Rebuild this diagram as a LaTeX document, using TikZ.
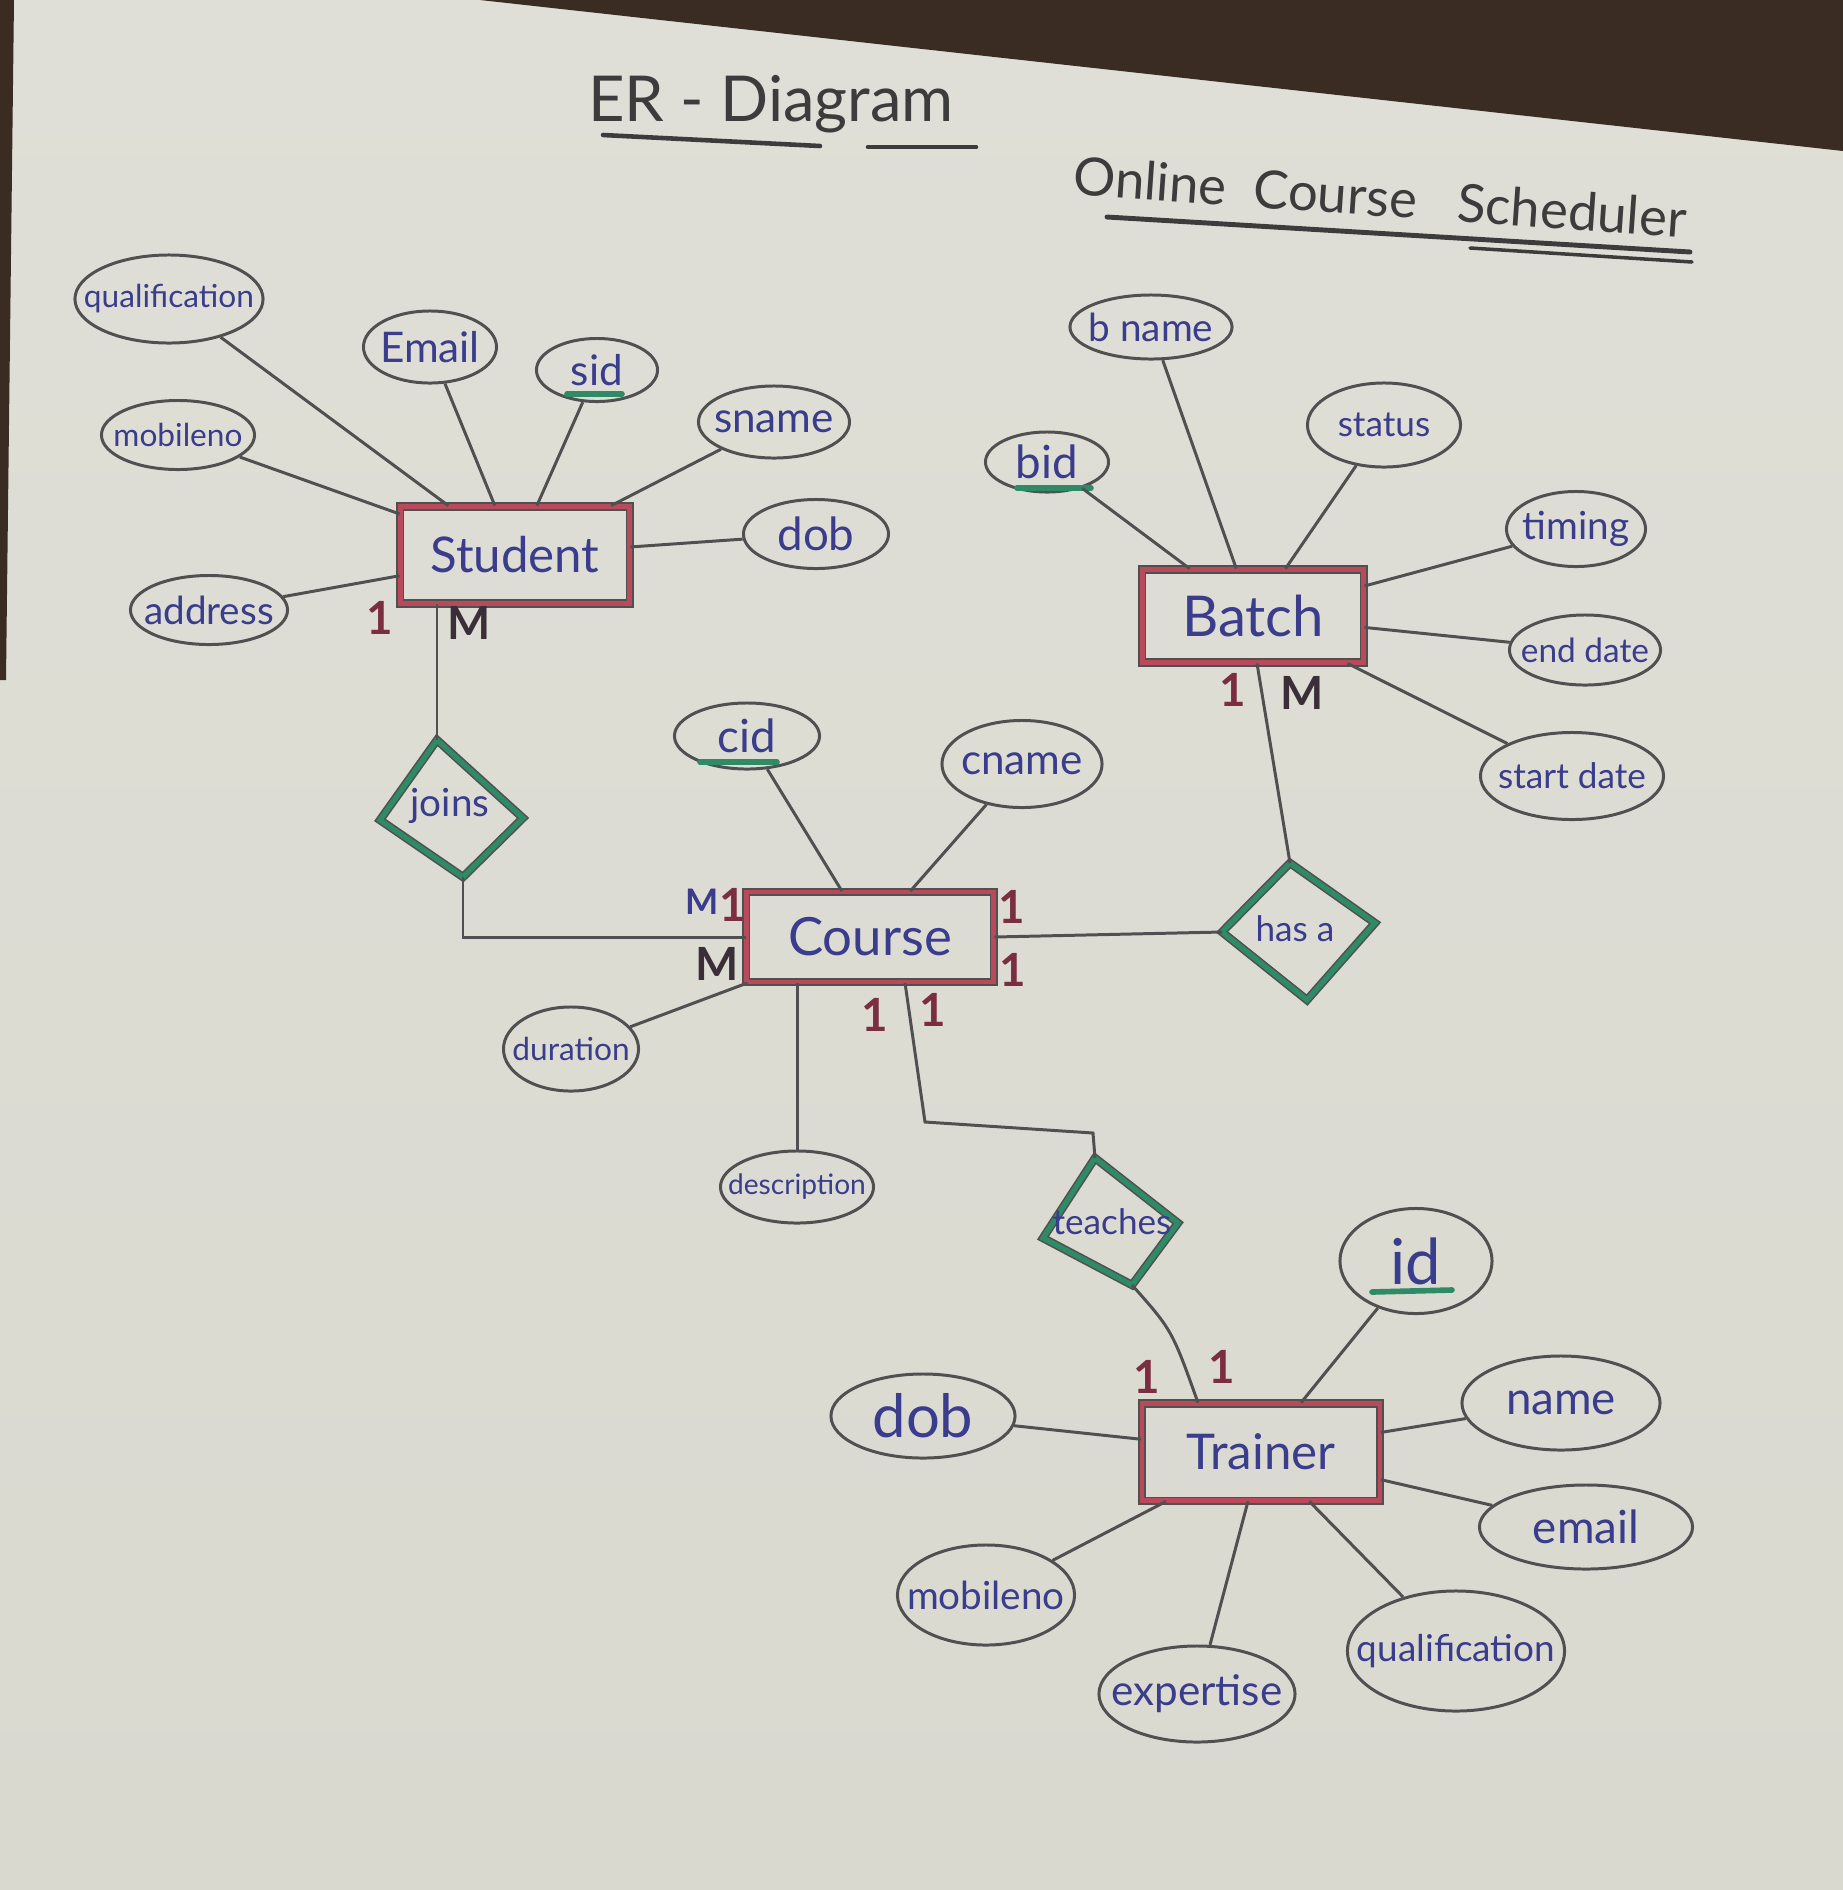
\documentclass[tikz,border=0pt]{standalone}
\usepackage{fontspec}
\setmainfont{Lato}
\usetikzlibrary{shapes.geometric,calc}
\definecolor{paper}{HTML}{DAD9D0}
\definecolor{paperlt}{HTML}{E0DFD7}
\definecolor{wood}{HTML}{3A2B23}
\definecolor{pencil}{HTML}{505050}
\definecolor{ink}{HTML}{3A3C8C}
\definecolor{redm}{HTML}{B84A5C}
\definecolor{greenm}{HTML}{2F8A66}
\definecolor{maroon}{HTML}{7A2E40}
\definecolor{darkm}{HTML}{3A2E38}
\definecolor{titleg}{HTML}{3C3C3C}
\newcommand{\ztext}[1]{\makebox[0pt]{#1}}
\begin{document}
\begin{tikzpicture}[x=0.01cm,y=-0.01cm,
  attr/.style={ellipse,draw=pencil,line width=0.85pt,inner sep=0pt,text=ink,font=\fontsize{11}{13}\selectfont},
  ent/.style={rectangle,draw=pencil,double=redm,double distance=1.3pt,line width=0.5pt,inner sep=0pt,text=ink,font=\fontsize{15}{18}\selectfont},
  rel/.style={draw=pencil,double=greenm,double distance=1.5pt,line width=0.45pt},
  rtext/.style={text=ink,font=\fontsize{11}{13}\selectfont},
  conn/.style={draw=pencil,line width=0.85pt},
  one/.style={text=maroon,font=\fontsize{13}{15}\selectfont\bfseries},
  many/.style={text=darkm,font=\fontsize{13}{15}\selectfont\bfseries},
  keyul/.style={draw=greenm,line width=1.6pt,line cap=round},
  titl/.style={text=titleg}
]
% paper and background
\shade[top color=paperlt,bottom color=paper] (0,0) rectangle (1843,1890);
\useasboundingbox (0,0) rectangle (1843,1890);
\fill[wood] (480,0) -- (1843,0) -- (1843,151) -- cycle;
\fill[wood] (0,0) -- (14,0) -- (6,680) -- (0,680) -- cycle;

% titles
\node[titl,font=\fontsize{18}{20}\selectfont] (t1) at (771,104) {ER - Diagram};
\draw[draw=titleg,line width=1.3pt,line cap=round] (603,135) -- (820,146);
\draw[draw=titleg,line width=1.3pt,line cap=round] (868,147) -- (976,147);
\node[titl,font=\fontsize{15}{18}\selectfont,rotate=-4] (t2) at (1380,197) {Online\ \ Course\ \ \ Scheduler};
\draw[draw=titleg,line width=1.4pt,line cap=round] (1107,217) -- (1690,252);
\draw[draw=titleg,line width=1.0pt,line cap=round] (1470,248) -- (1692,262);

% entities
\node[ent,minimum width=2.29cm,minimum height=0.97cm,font=\fontsize{14}{17}\selectfont] (st) at (515,555) {Student};
\node[ent,minimum width=2.47cm,minimum height=0.90cm] (co) at (870,937) {Course};
\node[ent,minimum width=2.21cm,minimum height=0.93cm,font=\fontsize{16}{18}\selectfont] (ba) at (1253,616) {Batch};
\node[ent,minimum width=2.38cm,minimum height=0.97cm,font=\fontsize{14}{17}\selectfont] (tr) at (1261,1452) {Trainer};

% relationships (diamonds)
\coordinate (J1) at (437,740); \coordinate (J2) at (523,818);
\coordinate (J3) at (463,877); \coordinate (J4) at (380,820);
\draw[rel] (J1) -- (J2) -- (J3) -- (J4) -- cycle;
\node[rtext] (jt) at (450,806) {joins};

\coordinate (H1) at (1290,863); \coordinate (H2) at (1375,923);
\coordinate (H3) at (1307,1000); \coordinate (H4) at (1222,932);
\draw[rel] (H1) -- (H2) -- (H3) -- (H4) -- cycle;
\node[rtext,font=\fontsize{10}{12}\selectfont] (ht) at (1295,929) {has a};

\coordinate (T1) at (1095,1158); \coordinate (T2) at (1178,1223);
\coordinate (T3) at (1132,1285); \coordinate (T4) at (1043,1238);
\draw[rel] (T1) -- (T2) -- (T3) -- (T4) -- cycle;
\node[rtext,font=\fontsize{10}{12}\selectfont] (tt) at (1112,1222) {teaches};

% Student attributes
\node[attr,minimum width=1.88cm,minimum height=0.88cm,font=\fontsize{9}{11}\selectfont] (sq) at (169,299) {\ztext{qualification}};
\node[attr,minimum width=1.33cm,minimum height=0.72cm,font=\fontsize{12}{14}\selectfont] (se) at (430,347) {\ztext{Email}};
\node[attr,minimum width=1.21cm,minimum height=0.63cm,font=\fontsize{12}{14}\selectfont] (ssid) at (597,370) {\ztext{sid}};
\node[attr,minimum width=1.51cm,minimum height=0.72cm,font=\fontsize{12}{14}\selectfont] (ssn) at (774,422) {\ztext{sname}};
\node[attr,minimum width=1.45cm,minimum height=0.69cm,font=\fontsize{13}{15}\selectfont] (sdob) at (816,534) {\ztext{dob}};
\node[attr,minimum width=1.53cm,minimum height=0.69cm,font=\fontsize{9}{11}\selectfont] (smob) at (178,435) {\ztext{mobileno}};
\node[attr,minimum width=1.57cm,minimum height=0.69cm] (sadd) at (209,610) {\ztext{address}};
\draw[keyul] (567,394) -- (622,394);
\foreach \a in {sq,se,ssid,ssn,sdob,smob,sadd} \draw[conn] (\a) -- (st);

% Course attributes
\node[attr,minimum width=1.45cm,minimum height=0.66cm,font=\fontsize{13}{15}\selectfont] (ccid) at (747,736) {\ztext{cid}};
\node[attr,minimum width=1.60cm,minimum height=0.87cm,font=\fontsize{12}{14}\selectfont] (ccn) at (1022,764) {\ztext{cname}};
\node[attr,minimum width=1.35cm,minimum height=0.84cm,font=\fontsize{9}{11}\selectfont] (cdur) at (571,1049) {\ztext{duration}};
\node[attr,minimum width=1.53cm,minimum height=0.72cm,font=\fontsize{8}{10}\selectfont] (cdes) at (797,1187) {\ztext{description}};
\draw[keyul] (700,762) -- (777,762);
\foreach \a in {ccid,ccn,cdur} \draw[conn] (\a) -- (co);
\draw[conn] (cdes.north) -- (cdes.north |- co.south);

% Batch attributes
\node[attr,minimum width=1.62cm,minimum height=0.64cm,font=\fontsize{11}{13}\selectfont] (bbn) at (1151,327) {\ztext{b name}};
\node[attr,minimum width=1.23cm,minimum height=0.60cm,font=\fontsize{13}{15}\selectfont] (bbid) at (1047,462) {\ztext{bid}};
\node[attr,minimum width=1.53cm,minimum height=0.84cm,font=\fontsize{10}{12}\selectfont] (bst) at (1384,425) {\ztext{status}};
\node[attr,minimum width=1.39cm,minimum height=0.75cm,font=\fontsize{11}{13}\selectfont] (btm) at (1576,529) {\ztext{timing}};
\node[attr,minimum width=1.51cm,minimum height=0.70cm,font=\fontsize{9.5}{11}\selectfont] (bed) at (1585,650) {\ztext{end date}};
\node[attr,minimum width=1.83cm,minimum height=0.87cm,font=\fontsize{10}{12}\selectfont] (bsd) at (1572,776) {\ztext{start date}};
\draw[keyul] (1017,488) -- (1091,488);
\foreach \a in {bbn,bbid,bst,btm,bed,bsd} \draw[conn] (\a) -- (ba);

% Trainer attributes
\node[attr,minimum width=1.52cm,minimum height=1.05cm,font=\fontsize{18}{20}\selectfont] (tid) at (1416,1261) {\ztext{id}};
\node[attr,minimum width=1.98cm,minimum height=0.94cm,font=\fontsize{13}{15}\selectfont] (tnm) at (1561,1403) {\ztext{name}};
\node[attr,minimum width=2.13cm,minimum height=0.84cm,font=\fontsize{13}{15}\selectfont] (tem) at (1586,1527) {\ztext{email}};
\node[attr,minimum width=2.17cm,minimum height=1.20cm,font=\fontsize{10.5}{13}\selectfont] (tq) at (1456,1651) {\ztext{qualification}};
\node[attr,minimum width=1.96cm,minimum height=0.96cm,font=\fontsize{12}{14}\selectfont] (tex) at (1197,1694) {\ztext{expertise}};
\node[attr,minimum width=1.77cm,minimum height=1.00cm,font=\fontsize{11}{13}\selectfont] (tmob) at (986,1595) {\ztext{mobileno}};
\node[attr,minimum width=1.84cm,minimum height=0.84cm,font=\fontsize{17}{19}\selectfont] (tdob) at (923,1416) {\ztext{dob}};
\draw[keyul] (1372,1292) -- (1452,1290);
\foreach \a in {tid,tnm,tem,tq,tex,tmob,tdob} \draw[conn] (\a) -- (tr);

% relationship connectors
\draw[conn] (st.south -| J1) -- (J1);
\draw[conn] (J3) |- (co.west);
\draw[conn] (co.east) -- (H4);
\draw[conn] ([xshift=0.04cm]ba.south) -- (H1);
\coordinate (tk1) at (925,1122);
\coordinate (tk2) at (1093,1133);
\draw[conn] ([xshift=0.35cm]co.south) -- (tk1) -- (tk2) -- (T1);
\draw[conn] (T3) .. controls (1172,1330) .. ([xshift=-0.63cm]tr.north);

% cardinalities
\node[one] (c1) at (380,618) {1};
\node[many] (c2) at (469,623) {M};
\node[text=ink,font=\fontsize{10}{12}\selectfont\bfseries] (c3) at (702,902) {M};
\node[one] (c4) at (733,905) {1};
\node[many] (c5) at (717,964) {M};
\node[one] (c6) at (1012,907) {1};
\node[one] (c7) at (1013,970) {1};
\node[one] (c8) at (875,1015) {1};
\node[one] (c9) at (933,1010) {1};
\node[one] (c10) at (1233,690) {1};
\node[many] (c11) at (1302,693) {M};
\node[one] (c12) at (1147,1377) {1};
\node[one] (c13) at (1222,1367) {1};
\end{tikzpicture}
\end{document}
